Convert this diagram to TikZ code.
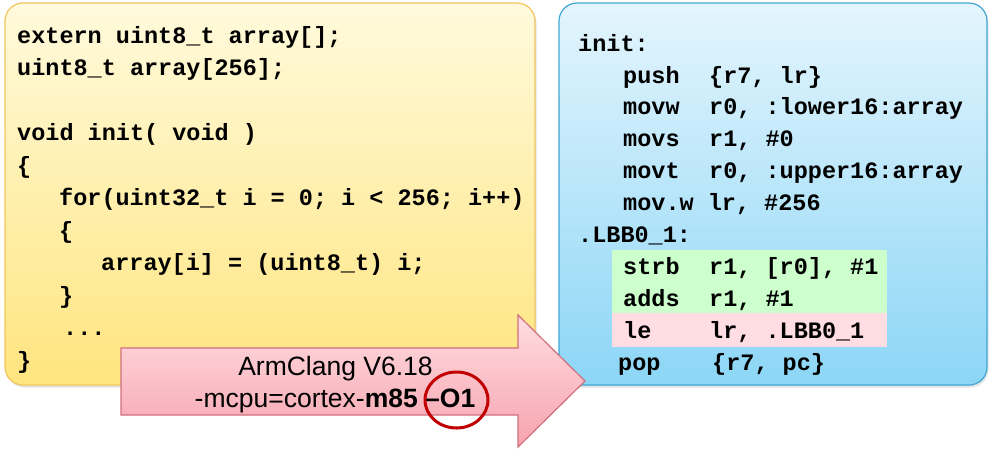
\documentclass[tikz,border=0pt]{standalone}
\usepackage{fontspec}
\setmainfont{Liberation Sans}
\setsansfont{Liberation Sans}
\setmonofont{Liberation Mono}
\usetikzlibrary{shadows,shapes.geometric}
\definecolor{ybTop}{HTML}{FFFADC}
\definecolor{ybBot}{HTML}{FFE57F}
\definecolor{ybLine}{HTML}{F2C55C}
\definecolor{bbTop}{HTML}{E4F5FD}
\definecolor{bbBot}{HTML}{8CD6F6}
\definecolor{bbLine}{HTML}{3FA6D6}
\definecolor{arTop}{HTML}{FFDDE1}
\definecolor{arBot}{HTML}{F7A3AE}
\definecolor{arLine}{HTML}{D0707E}
\definecolor{hlGreen}{HTML}{CCFFCC}
\definecolor{hlPink}{HTML}{FFDDE3}
\definecolor{ovalRed}{HTML}{C00000}
\begin{document}
\begin{tikzpicture}[x=1pt,y=-1pt,
  panel/.style={rounded corners=18pt, line width=1.2pt, inner sep=0pt,
    drop shadow={opacity=0.22, shadow xshift=1.5pt, shadow yshift=-2.5pt}},
  code/.style={anchor=base west, inner sep=0pt,
    font=\fontsize{23.5}{28}\selectfont\ttfamily\bfseries},
  lbl/.style={anchor=base, inner sep=0pt,
    font=\fontsize{26.5}{32}\selectfont\sffamily}
]
\useasboundingbox (0,0) rectangle (992,456);

% panels
\node[panel, draw=ybLine, top color=ybTop, bottom color=ybBot,
      minimum width=530pt, minimum height=382pt] (src) at (270,194) {};
\node[panel, draw=bbLine, top color=bbTop, bottom color=bbBot,
      minimum width=428pt, minimum height=382pt] (asm) at (773,194) {};

% highlights
\node[fill=hlGreen, inner sep=0pt, minimum width=275pt, minimum height=63pt] (hlg) at (749.5,281.5) {};
\node[fill=hlPink, inner sep=0pt, minimum width=275pt, minimum height=34pt] (hlp) at (749.5,330) {};

% C source
\node[code] (l0) at (17,43) {extern uint8\_t array[];};
\node[code] (l1) at (17,75.5) {uint8\_t array[256];};
\node[code] (l3) at (17,140.5) {void init( void )};
\node[code] (l4) at (17,173) {\{};
\node[code] (l5) at (59,205.5) {for(uint32\_t i = 0; i < 256; i++)};
\node[code] (l6) at (59,238) {\{};
\node[code] (l7) at (101,270.5) {array[i] = (uint8\_t) i;};
\node[code] (l8) at (59,303) {\}};
\node[code] (l9) at (63,335.5) {...};
\node[code] (l10) at (17,368) {\}};

% assembly
\node[code] (a0) at (578,51) {init:};
\node[code] (a1m) at (623,83) {push};
\node[code] (a1o) at (709,83) {\{r7, lr\}};
\node[code] (a2m) at (623,114.8) {movw};
\node[code] (a2o) at (709,114.8) {r0, :lower16:array};
\node[code] (a3m) at (623,146.7) {movs};
\node[code] (a3o) at (709,146.7) {r1, \#0};
\node[code] (a4m) at (623,178.6) {movt};
\node[code] (a4o) at (709,178.6) {r0, :upper16:array};
\node[code] (a5) at (623,210.5) {mov.w lr, \#256};
\node[code] (a6) at (578,242.4) {.LBB0\_1:};
\node[code] (a7m) at (623,274.3) {strb};
\node[code] (a7o) at (709,274.3) {r1, [r0], \#1};
\node[code] (a8m) at (623,306.2) {adds};
\node[code] (a8o) at (709,306.2) {r1, \#1};
\node[code] (a9m) at (623,338.1) {le};
\node[code] (a9o) at (709,338.1) {lr, .LBB0\_1};
\node[code] (a10m) at (618,370) {pop};
\node[code] (a10o) at (712,370) {\{r7, pc\}};

% compiler arrow
\path[draw=arLine, line width=1.2pt, top color=arTop, bottom color=arBot, line join=miter]
  (121,348) -- (518,348) -- (518,315) -- (585,381) -- (518,447) -- (518,415) -- (121,415) -- cycle;
\node[lbl] (cc1) at (335.5,375) {ArmClang V6.18};
\node[lbl] (cc2) at (335,407) {-mcpu=cortex-\textbf{m85 –O1}};
\node[draw=ovalRed, ellipse, line width=3pt, inner sep=0pt,
      minimum width=63pt, minimum height=56pt] (oval) at (456.5,400) {};
\end{tikzpicture}
\end{document}
